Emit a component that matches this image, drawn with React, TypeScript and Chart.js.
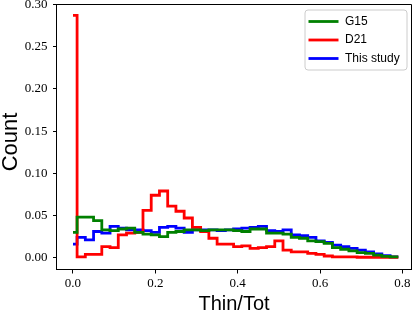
import React, { useEffect, useRef } from "react";
import { Chart, registerables } from "chart.js";

Chart.register(...registerables);

// Bin centres of the histograms (Thin/Tot)
const binCenters = [
  0.0, 0.02, 0.04, 0.06, 0.08, 0.1, 0.12, 0.14, 0.16, 0.18,
  0.2, 0.22, 0.24, 0.26, 0.28, 0.3, 0.32, 0.34, 0.36, 0.38,
  0.4, 0.42, 0.44, 0.46, 0.48, 0.5, 0.52, 0.54, 0.56, 0.58,
  0.6, 0.62, 0.64, 0.66, 0.68, 0.7, 0.72, 0.74, 0.76, 0.78,
];
const lastEdge = 0.79;

const g15 = [
  0.030, 0.048, 0.048, 0.044, 0.033, 0.032, 0.034, 0.035, 0.030, 0.028,
  0.027, 0.025, 0.030, 0.031, 0.033, 0.033, 0.032, 0.033, 0.033, 0.033,
  0.032, 0.031, 0.034, 0.034, 0.029, 0.029, 0.028, 0.024, 0.023, 0.020,
  0.019, 0.017, 0.012, 0.010, 0.008, 0.006, 0.005, 0.003, 0.0015, 0.001,
];

const d21 = [
  0.287, 0.001, 0.004, 0.004, 0.013, 0.012, 0.027, 0.029, 0.030, 0.056,
  0.074, 0.079, 0.061, 0.055, 0.047, 0.036, 0.031, 0.023, 0.016, 0.016,
  0.013, 0.014, 0.011, 0.012, 0.013, 0.020, 0.009, 0.007, 0.007, 0.005,
  0.004, 0.002, 0.001, 0.001, 0.001, 0.0005, 0.0005, 0.0005, 0.0005, 0.0005,
];

const thisStudy = [
  0.016, 0.024, 0.021, 0.031, 0.029, 0.037, 0.035, 0.033, 0.033, 0.032,
  0.030, 0.036, 0.037, 0.035, 0.030, 0.033, 0.033, 0.033, 0.032, 0.033,
  0.034, 0.035, 0.036, 0.037, 0.032, 0.031, 0.033, 0.027, 0.026, 0.024,
  0.020, 0.018, 0.015, 0.013, 0.011, 0.009, 0.007, 0.0045, 0.0025, 0.001,
];

const seriesNames = ["G15", "D21", "This study"];
const seriesColors = ["#008000", "#ff0000", "#0000ff"];

const xTicks = [0, 0.2, 0.4, 0.6, 0.8];
const yTicks = [0, 0.05, 0.1, 0.15, 0.2, 0.25, 0.3];
const xLabel = "Thin/Tot";
const yLabel = "Count";

function toPoints(vals: number[]) {
  const pts = binCenters.map((x, i) => ({ x, y: vals[i] }));
  pts.push({ x: lastEdge, y: vals[vals.length - 1] });
  return pts;
}

const decorPlugin = {
  id: "decor",
  afterDraw(chart: any) {
    const { ctx, chartArea: ca } = chart;
    ctx.save();
    // top and right spines
    ctx.strokeStyle = "#000";
    ctx.lineWidth = 1;
    ctx.beginPath();
    ctx.moveTo(ca.left, ca.top);
    ctx.lineTo(ca.right, ca.top);
    ctx.lineTo(ca.right, ca.bottom);
    ctx.stroke();

    // axis titles
    ctx.fillStyle = "#000";
    ctx.textAlign = "center";
    ctx.textBaseline = "alphabetic";
    ctx.font = '20px "Liberation Sans"';
    ctx.fillText(xLabel, (ca.left + ca.right) / 2, ca.bottom + 40);
    ctx.save();
    ctx.translate(16.5, (ca.top + ca.bottom) / 2 + 5);
    ctx.rotate(-Math.PI / 2);
    ctx.font = '22px "Liberation Sans"';
    ctx.fillText(yLabel, 0, 0);
    ctx.restore();

    // legend
    const bx = ca.right - 106.5;
    const by = ca.top + 5.5;
    const bw = 102;
    const bh = 60;
    ctx.beginPath();
    ctx.roundRect(bx, by, bw, bh, 3);
    ctx.fillStyle = "rgba(255,255,255,0.8)";
    ctx.fill();
    ctx.strokeStyle = "#cccccc";
    ctx.lineWidth = 1;
    ctx.stroke();
    const rows = [by + 11.5, by + 30, by + 48.5];
    chart.data.datasets.forEach((ds: any, i: number) => {
      const y = rows[i];
      ctx.strokeStyle = ds.borderColor;
      ctx.lineWidth = 2.8;
      ctx.beginPath();
      ctx.moveTo(bx + 3.5, y);
      ctx.lineTo(bx + 33.5, y);
      ctx.stroke();
      ctx.fillStyle = "#000";
      ctx.textAlign = "left";
      ctx.textBaseline = "middle";
      ctx.font = '12px "Liberation Sans"';
      ctx.fillText(ds.label, bx + 40, y);
    });
    ctx.restore();
  },
};

export default function App() {
  const canvasRef = useRef<HTMLCanvasElement | null>(null);

  useEffect(() => {
    const canvas = canvasRef.current;
    if (!canvas) return;
    const allSeries = [g15, d21, thisStudy];
    const chart = new Chart(canvas, {
      type: "line",
      data: {
        datasets: allSeries.map((vals, i) => ({
          label: seriesNames[i],
          data: toPoints(vals),
          borderColor: seriesColors[i],
          backgroundColor: seriesColors[i],
          borderWidth: 2.8,
          pointRadius: 0,
          stepped: "middle" as const,
          fill: false,
          borderCapStyle: "butt" as const,
          borderJoinStyle: "miter" as const,
        })),
      },
      options: {
        responsive: false,
        animation: false,
        events: [],
        layout: { padding: { top: 4.5, right: 3.5, left: 0, bottom: 0 } },
        plugins: {
          legend: { display: false },
          tooltip: { enabled: false },
        },
        scales: {
          x: {
            type: "linear",
            min: -0.04,
            max: 0.822,
            afterBuildTicks: (scale: any) => {
              scale.ticks = xTicks.map((v) => ({ value: v }));
            },
            afterFit: (scale: any) => {
              scale.height = 45.5;
              scale.paddingLeft = 0;
              scale.paddingRight = 0;
            },
            ticks: {
              color: "#000",
              padding: 2,
              maxRotation: 0,
              autoSkip: false,
              font: { family: '"Liberation Serif"', size: 13 },
              callback: (v: any) => Number(v).toFixed(1),
            },
            grid: {
              display: true,
              drawOnChartArea: false,
              drawTicks: true,
              tickLength: 4,
              tickColor: "#000",
            },
            border: { display: true, color: "#000", width: 1 },
          },
          y: {
            type: "linear",
            min: -0.014,
            max: 0.3,
            afterBuildTicks: (scale: any) => {
              scale.ticks = yTicks.map((v) => ({ value: v }));
            },
            afterFit: (scale: any) => {
              scale.width = 56.5;
              scale.paddingTop = 0;
              scale.paddingBottom = 0;
            },
            ticks: {
              color: "#000",
              padding: 5.5,
              autoSkip: false,
              font: { family: '"Liberation Serif"', size: 13 },
              callback: (v: any) => Number(v).toFixed(2),
            },
            grid: {
              display: true,
              drawOnChartArea: false,
              drawTicks: true,
              tickLength: 3.5,
              tickColor: "#000",
            },
            border: { display: true, color: "#000", width: 1 },
          },
        },
      },
      plugins: [decorPlugin],
    });
    return () => chart.destroy();
  }, []);

  return (
    <div style={{ position: "fixed", left: 0, top: 0, width: 415, height: 315, background: "#fff" }}>
      <canvas ref={canvasRef} width={415} height={315} style={{ display: "block" }} />
    </div>
  );
}
